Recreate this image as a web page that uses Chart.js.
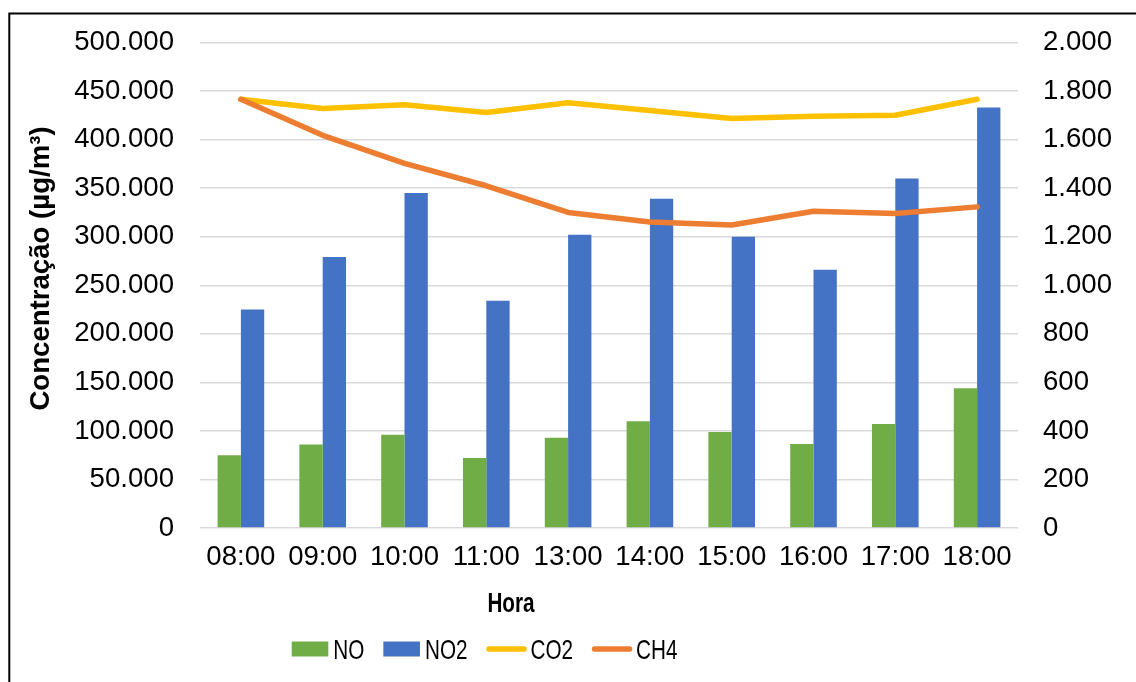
<!DOCTYPE html>
<html lang="pt-BR">
<head>
<meta charset="utf-8">
<title>Concentração por hora</title>
<script src="https://cdn.jsdelivr.net/npm/chart.js@4/dist/chart.umd.min.js"></script>
<style>
  html, body { margin: 0; padding: 0; background: #ffffff; }
  #wrap { position: relative; width: 1136px; height: 682px; }
  canvas { display: block; }
</style>
</head>
<body>
<div id="wrap"><canvas id="chart" width="1136" height="682"></canvas></div>
<script>
// Hourly readings
const hours = ['08:00', '09:00', '10:00', '11:00', '13:00', '14:00', '15:00', '16:00', '17:00', '18:00'];
const noValues  = [75000, 86000, 96000, 72000, 93000, 110000, 99000, 86500, 107000, 144000];
const no2Values = [225000, 279000, 345000, 234000, 302000, 339000, 300000, 266000, 360000, 433000];
const co2Values = [441600, 432000, 436000, 428000, 438000, 430000, 421700, 424000, 425200, 441600];
const ch4Values = [1766, 1618, 1502, 1410, 1300, 1261, 1248, 1305, 1296, 1323];

const yTitle = 'Concentração (µg/m³)';
const xTitle = 'Hora';

const FONT = '"Liberation Sans", Arial, Helvetica, sans-serif';
const TICK_SIZE = 27.6;

// Thousands separator as used in pt-BR: 500000 -> "500.000"
function fmt(v) {
  return String(Math.round(v)).replace(/\B(?=(\d{3})+(?!\d))/g, '.');
}

// Frame, axis titles and legend drawn onto the canvas
const decorations = {
  id: 'decorations',
  afterDraw(chart) {
    const ctx = chart.ctx;
    ctx.save();

    // outer frame
    ctx.strokeStyle = '#000000';
    ctx.lineWidth = 2;
    ctx.strokeRect(9.3, 13.5, 1200, 800);

    // vertical title
    ctx.fillStyle = '#000000';
    ctx.font = 'bold 27.6px ' + FONT;
    ctx.textAlign = 'center';
    ctx.textBaseline = 'middle';
    ctx.save();
    ctx.translate(41, 268.5);
    ctx.rotate(-Math.PI / 2);
    ctx.fillText(yTitle, 0, 0);
    ctx.restore();

    // horizontal title (narrow)
    ctx.save();
    ctx.translate(511, 611.5);
    ctx.scale(0.75, 1);
    ctx.textBaseline = 'alphabetic';
    ctx.fillText(xTitle, 0, 0);
    ctx.restore();

    // legend
    ctx.font = '27.6px ' + FONT;
    ctx.textAlign = 'left';
    ctx.textBaseline = 'alphabetic';
    let x = 291.7;
    const cy = 649;
    chart.data.datasets.forEach(ds => {
      if (ds.type === 'line') {
        ctx.strokeStyle = ds.borderColor;
        ctx.lineWidth = 5.5;
        ctx.lineCap = 'round';
        ctx.beginPath();
        ctx.moveTo(x + 2.5, cy);
        ctx.lineTo(x + 37.5, cy);
        ctx.stroke();
        x += 40 + 4;
      } else {
        ctx.fillStyle = ds.backgroundColor;
        ctx.fillRect(x, cy - 7.5, 36.6, 15);
        x += 36.6 + 5;
      }
      ctx.fillStyle = '#000000';
      ctx.save();
      ctx.translate(x, 659.3);
      ctx.scale(0.75, 1);
      ctx.fillText(ds.label, 0, 0);
      ctx.restore();
      x += ctx.measureText(ds.label).width * 0.75 + 19;
    });

    ctx.restore();
  }
};

const gridColor = '#d9d9d9';

new Chart(document.getElementById('chart'), {
  type: 'bar',
  data: {
    labels: hours,
    datasets: [
      { type: 'bar', label: 'NO', data: noValues, backgroundColor: '#70AD47', yAxisID: 'y', order: 2 },
      { type: 'bar', label: 'NO2', data: no2Values, backgroundColor: '#4472C4', yAxisID: 'y', order: 2 },
      { type: 'line', label: 'CO2', data: co2Values, borderColor: '#FFC000', backgroundColor: '#FFC000',
        borderWidth: 5.5, pointRadius: 0, tension: 0, borderCapStyle: 'round', borderJoinStyle: 'round',
        yAxisID: 'y', order: 1 },
      { type: 'line', label: 'CH4', data: ch4Values, borderColor: '#ED7D31', backgroundColor: '#ED7D31',
        borderWidth: 5.5, pointRadius: 0, tension: 0, borderCapStyle: 'round', borderJoinStyle: 'round',
        yAxisID: 'y1', order: 0 }
    ]
  },
  options: {
    responsive: false,
    animation: false,
    devicePixelRatio: 1,
    layout: { padding: { top: 42, bottom: 94, left: 0, right: 0 } },
    datasets: {
      bar: { categoryPercentage: 0.57, barPercentage: 1.0 }
    },
    plugins: {
      legend: { display: false },
      tooltip: { enabled: false },
      title: { display: false }
    },
    scales: {
      x: {
        offset: true,
        grid: { display: false, drawTicks: false },
        border: { display: false },
        ticks: { color: '#000000', font: { family: FONT, size: TICK_SIZE }, padding: 13, maxRotation: 0, autoSkip: false },
        afterFit(scale) { scale.height = 60; }
      },
      y: {
        position: 'left',
        min: 0, max: 500000,
        grid: { color: gridColor, lineWidth: 1.5, drawTicks: false },
        border: { display: false },
        ticks: { stepSize: 50000, color: '#000000', font: { family: FONT, size: TICK_SIZE }, padding: 26,
                 callback: v => fmt(v) },
        afterFit(scale) { scale.width = 200; }
      },
      y1: {
        position: 'right',
        min: 0, max: 2000,
        grid: { display: false, drawTicks: false },
        border: { display: false },
        ticks: { stepSize: 200, color: '#000000', font: { family: FONT, size: TICK_SIZE }, padding: 25,
                 callback: v => fmt(v) },
        afterFit(scale) { scale.width = 118; }
      }
    }
  },
  plugins: [decorations]
});
</script>
</body>
</html>
